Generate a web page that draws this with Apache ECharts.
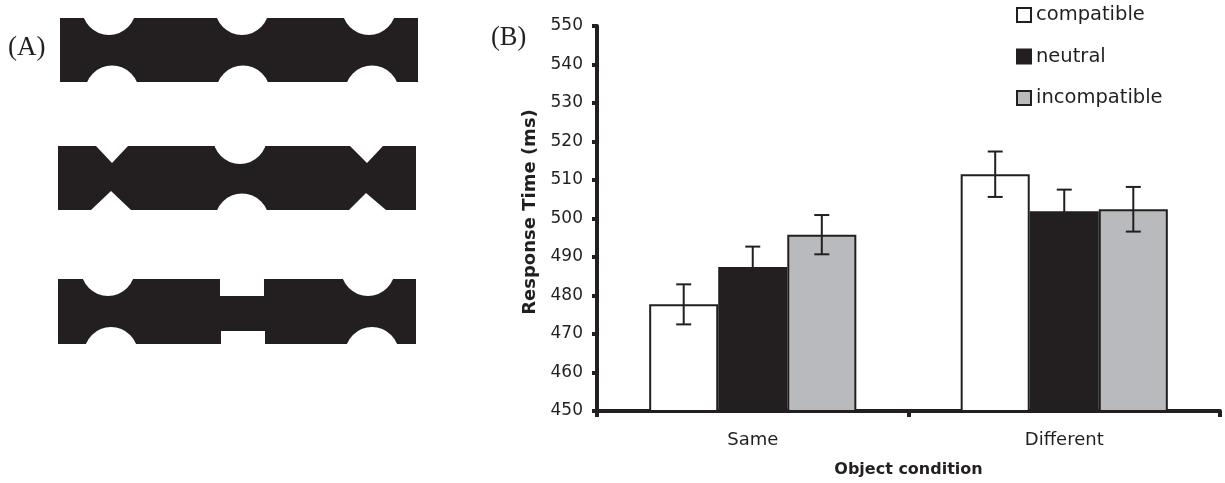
<!DOCTYPE html>
<html><head><meta charset="utf-8">
<script src="https://cdn.jsdelivr.net/npm/echarts@6/dist/echarts.min.js"></script>
<style>html,body{margin:0;padding:0;background:#fff}#c{width:1225px;height:483px}</style>
</head><body><div id="c"></div>
<script>
const categories = ['Same', 'Different'];
const seriesNames = ['compatible', 'neutral', 'incompatible'];
const compatible = [477.7, 511.5];
const neutral = [487.4, 501.9];
const incompatible = [495.8, 502.4];
const compatibleErr = [5.2, 5.9];
const neutralErr = [5.3, 5.6];
const incompatibleErr = [5.1, 5.8];
const yTicks = [450, 460, 470, 480, 490, 500, 510, 520, 530, 540, 550];

const INK = '#231f20';
const fills = ['#ffffff', INK, '#b9babd'];
const values = [compatible, neutral, incompatible];
const errs = [compatibleErr, neutralErr, incompatibleErr];
const CAT_GAP = 0.335;
const FONT = '"DejaVu Sans", Verdana, sans-serif';
const SERIF = '"Liberation Serif", "DejaVu Serif", serif';

const chart = echarts.init(document.getElementById('c'), null, {renderer: 'canvas'});

const barSeries = seriesNames.map((n, i) => ({
  name: n, type: 'bar', data: values[i],
  barGap: '0%', barCategoryGap: (CAT_GAP * 100) + '%',
  itemStyle: {color: fills[i], borderColor: INK, borderWidth: 2},
  emphasis: {disabled: true}, z: 2
}));

const errSeries = seriesNames.map((n, i) => ({
  name: n + '_err', type: 'custom', z: 5,
  data: categories.map((c, k) => [k, values[i][k], errs[i][k]]),
  renderItem: function (params, api) {
    const k = api.value(0), v = api.value(1), e = api.value(2);
    const catW = api.size([1, 0])[0];
    const barW = catW * (1 - CAT_GAP) / 3;
    const cx = api.coord([k, v])[0] + (i - 1) * barW;
    const yt = api.coord([k, v + e])[1];
    const yb = api.coord([k, v - e])[1];
    const cap = 7.5;
    const st = {stroke: INK, lineWidth: 2};
    return {type: 'group', children: [
      {type: 'line', shape: {x1: cx, y1: yt, x2: cx, y2: yb}, style: st},
      {type: 'line', shape: {x1: cx - cap, y1: yt, x2: cx + cap, y2: yt}, style: st},
      {type: 'line', shape: {x1: cx - cap, y1: yb, x2: cx + cap, y2: yb}, style: st}
    ]};
  }
}));

// Panel (A) illustration shapes
const B = '#231f20';
function rect(x, y, w, h, fill, z) { return {type: 'rect', z: z || 100, shape: {x, y, width: w, height: h}, style: {fill}, silent: true}; }
function circ(cx, cy, r) { return {type: 'circle', z: 101, shape: {cx, cy, r}, style: {fill: '#fff'}, silent: true}; }
function tri(pts) { return {type: 'polygon', z: 101, shape: {points: pts}, style: {fill: '#fff'}, silent: true}; }
const gfx = [
  {type: 'text', z: 100, style: {text: '(A)', x: 8, y: 48, verticalAlign: 'middle', font: '27px ' + SERIF, fill: INK}},
  {type: 'text', z: 100, style: {text: '(B)', x: 491, y: 38, verticalAlign: 'middle', font: '26.5px ' + SERIF, fill: INK}},
  // shape 1
  rect(60, 18, 358, 64, B),
  circ(109, 8, 27), circ(242, 8, 27), circ(369, 8, 27),
  circ(112, 92.5, 27), circ(243, 92.5, 27), circ(372, 92.5, 27),
  // shape 2
  rect(58, 146, 358, 64, B),
  tri([[96, 146], [128, 146], [112, 163]]), tri([[91, 210], [131, 210], [111, 191]]),
  circ(240, 137, 27), circ(242, 220.5, 27),
  tri([[350, 146], [383, 146], [367, 163]]), tri([[349, 210], [386, 210], [366, 193]]),
  // shape 3
  rect(58, 279, 358, 65, B),
  circ(108, 269, 27), circ(111, 354, 27),
  circ(368, 269, 27), circ(372, 354, 27),
  rect(220, 278, 44, 18, '#fff', 101),
  rect(221, 331, 44, 14, '#fff', 101)
];

chart.setOption({
  animation: false,
  backgroundColor: '#fff',
  textStyle: {fontFamily: FONT, color: INK},
  grid: {left: 597, right: 5, top: 26, height: 387, containLabel: false},
  legend: {
    data: seriesNames.map(n => ({name: n, icon: 'rect'})),
    orient: 'vertical', left: 1011, top: 0,
    itemWidth: 14, itemHeight: 14, itemGap: 21.5,
    textStyle: {fontFamily: FONT, fontSize: 19.5, lineHeight: 20, color: INK},
    selectedMode: false
  },
  xAxis: {
    type: 'category', data: categories,
    axisLine: {lineStyle: {color: INK, width: 4}},
    axisTick: {show: true, length: 6, lineStyle: {color: INK, width: 4}},
    axisLabel: {fontFamily: FONT, fontSize: 18, color: INK, margin: 20},
    name: 'Object condition', nameLocation: 'middle', nameGap: 51,
    nameTextStyle: {fontFamily: FONT, fontSize: 16, fontWeight: 'bold', color: INK}
  },
  yAxis: {
    type: 'value', min: yTicks[0], max: yTicks[yTicks.length - 1], interval: 10,
    axisLine: {show: true, lineStyle: {color: INK, width: 4}},
    axisTick: {show: true, length: 5, lineStyle: {color: INK, width: 4}},
    splitLine: {show: false},
    axisLabel: {fontFamily: FONT, fontSize: 17, color: INK, margin: 14},
    name: 'Response Time (ms)', nameLocation: 'middle', nameGap: 54, nameRotate: 90,
    nameTextStyle: {fontFamily: FONT, fontSize: 18, fontWeight: 'bold', color: INK, padding: [0, 0, 0, 13]}
  },
  series: barSeries.concat(errSeries),
  graphic: gfx
});
</script></body></html>
